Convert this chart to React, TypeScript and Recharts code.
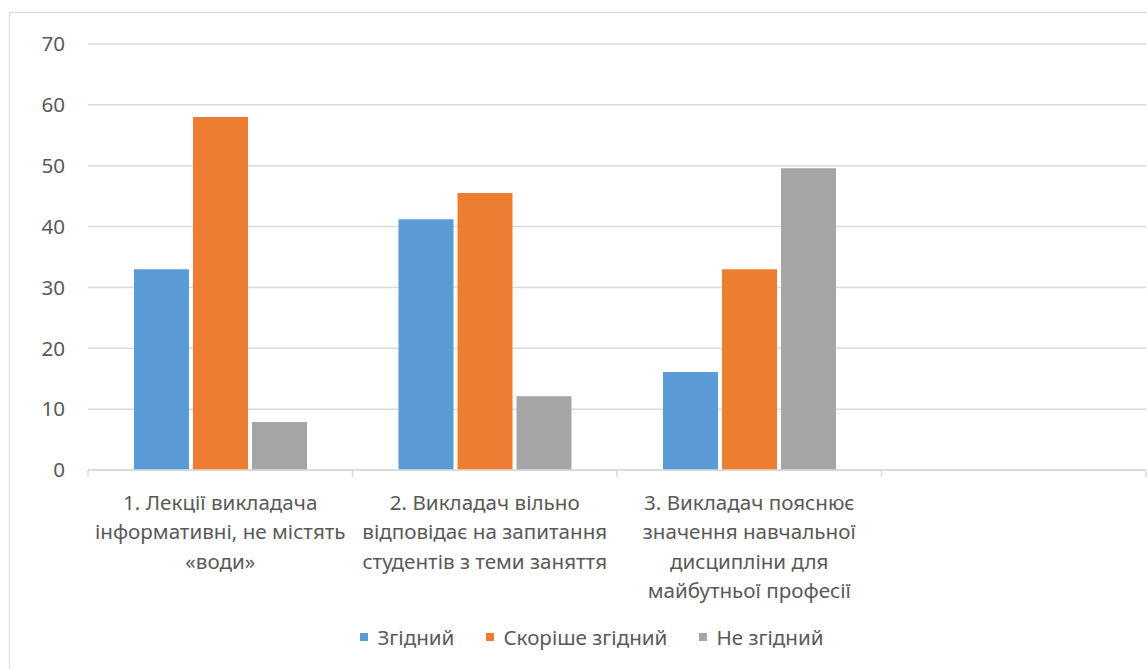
import React from "react";
import { BarChart, Bar, XAxis, YAxis, CartesianGrid } from "recharts";

// category labels, already broken into the lines shown under the axis
const CATEGORY_LINES: string[][] = [
  ["1. Лекції викладача", "інформативні, не містять", "«води»"],
  ["2. Викладач вільно", "відповідає на запитання", "студентів з теми заняття"],
  ["3. Викладач пояснює", "значення навчальної", "дисципліни для", "майбутньої професії"],
  [],
];

const AGREE = [33, 41.2, 16.1, null];
const RATHER_AGREE = [58, 45.5, 33, null];
const DISAGREE = [7.9, 12.1, 49.6, null];

const Y_TICKS = [0, 10, 20, 30, 40, 50, 60, 70];

const SERIES = [
  { key: "agree", name: "Згідний", color: "#5B9BD5", values: AGREE },
  { key: "ratherAgree", name: "Скоріше згідний", color: "#ED7D31", values: RATHER_AGREE },
  { key: "disagree", name: "Не згідний", color: "#A5A5A5", values: DISAGREE },
];

const WIDTH = 1147;
const HEIGHT = 669;
const PLOT_LEFT = 88;
const PLOT_RIGHT = 1146;
const PLOT_TOP = 44;
const AXIS_Y = 470;
const BAND = (PLOT_RIGHT - PLOT_LEFT) / CATEGORY_LINES.length;
const GRID = "#d9d9d9";
const TEXT = "#595959";
const FONT = "'Noto Sans', 'Open Sans', sans-serif";
const FONT_SIZE = 20.6;

const data = CATEGORY_LINES.map((lines, i) => {
  const row: Record<string, any> = { category: lines.join(" ") || `empty-${i}` };
  SERIES.forEach((s) => {
    row[s.key] = s.values[i];
  });
  return row;
});

const CategoryTick = (props: any) => {
  const { x, index } = props;
  const lines = CATEGORY_LINES[index] || [];
  const half = BAND / 2;
  return (
    <g>
      <line x1={x - half} x2={x - half} y1={AXIS_Y} y2={AXIS_Y + 7} stroke={GRID} strokeWidth={1.5} />
      {index === CATEGORY_LINES.length - 1 && (
        <line x1={x + half} x2={x + half} y1={AXIS_Y} y2={AXIS_Y + 7} stroke={GRID} strokeWidth={1.5} />
      )}
      <text textAnchor="middle" fill={TEXT} fontSize={FONT_SIZE} fontFamily={FONT}>
        {lines.map((line, i) => (
          <tspan key={i} x={x} y={510 + i * 29.3}>
            {line}
          </tspan>
        ))}
      </text>
    </g>
  );
};

export default function App() {
  return (
    <div
      style={{
        position: "absolute",
        left: 0,
        top: 0,
        width: WIDTH,
        height: HEIGHT,
        overflow: "hidden",
        background: "#fff",
        fontFamily: FONT,
      }}
    >
      {/* chart frame, its right and bottom edges fall outside the picture */}
      <div
        style={{
          position: "absolute",
          left: 9,
          top: 12,
          width: 1300,
          height: 800,
          border: `1.5px solid ${GRID}`,
        }}
      />
      <div style={{ position: "absolute", left: 0, top: 0 }}>
        <BarChart
          width={WIDTH}
          height={HEIGHT}
          data={data}
          margin={{ top: PLOT_TOP, right: WIDTH - PLOT_RIGHT, left: 0, bottom: 0 }}
          barSize={55}
          barGap={4}
        >
          <CartesianGrid vertical={false} stroke={GRID} strokeWidth={1.5} />
          <XAxis
            dataKey="category"
            height={HEIGHT - AXIS_Y}
            interval={0}
            axisLine={{ stroke: GRID, strokeWidth: 1.5 }}
            tickLine={false}
            tick={<CategoryTick />}
          />
          <YAxis
            width={PLOT_LEFT}
            domain={[0, 70]}
            ticks={Y_TICKS}
            axisLine={false}
            tickLine={false}
            tickSize={0}
            tickMargin={23}
            tick={{ fill: TEXT, fontSize: FONT_SIZE, fontFamily: FONT }}
          />
          {SERIES.map((s) => (
            <Bar key={s.key} dataKey={s.key} name={s.name} fill={s.color} isAnimationActive={false} />
          ))}
        </BarChart>
      </div>
      <div
        style={{
          position: "absolute",
          left: 0,
          top: 623,
          width: 1184,
          display: "flex",
          justifyContent: "center",
          alignItems: "center",
          fontSize: FONT_SIZE,
          color: TEXT,
        }}
      >
        {SERIES.map((s, i) => (
          <div
            key={s.key}
            style={{ display: "flex", alignItems: "center", marginLeft: i === 0 ? 0 : 32 }}
          >
            <span style={{ width: 8, height: 8, background: s.color, marginRight: 9 }} />
            <span>{s.name}</span>
          </div>
        ))}
      </div>
    </div>
  );
}
